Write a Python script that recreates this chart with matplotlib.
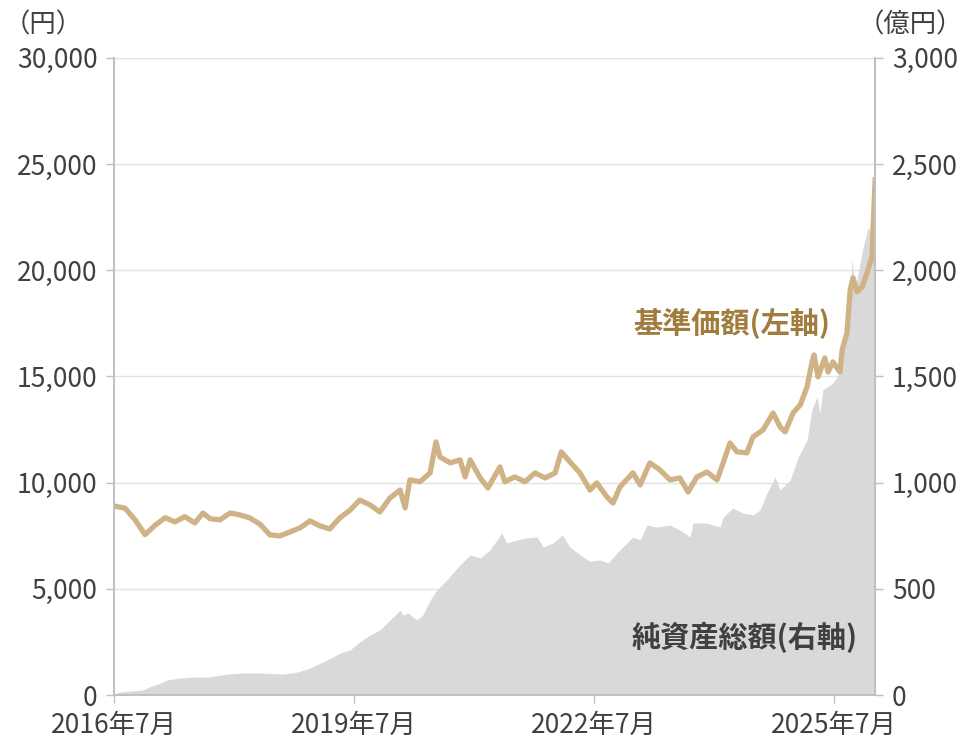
import numpy as np
import matplotlib
matplotlib.use("Agg")
import matplotlib.pyplot as plt
import matplotlib.ticker as mticker
import pandas as pd

plt.rcParams['font.family'] = ['Noto Sans CJK JP', 'DejaVu Sans']

# 基準価額 (円)
nav_dates = [
    "2016-07-01", "2016-08-20", "2016-10-05", "2016-11-20", "2017-01-05", "2017-02-20",
    "2017-04-05", "2017-05-20", "2017-07-05", "2017-08-11", "2017-09-13", "2017-10-28",
    "2017-12-13", "2018-01-28", "2018-03-13", "2018-04-28", "2018-06-13", "2018-07-28",
    "2018-09-13", "2018-10-28", "2018-12-13", "2019-01-28", "2019-03-13", "2019-04-28",
    "2019-06-13", "2019-07-28", "2019-09-13", "2019-10-28", "2019-12-13", "2020-01-28",
    "2020-02-20", "2020-03-13", "2020-04-28", "2020-06-13", "2020-07-10", "2020-07-28",
    "2020-09-13", "2020-10-28", "2020-11-20", "2020-12-13", "2021-01-28", "2021-03-04",
    "2021-04-28", "2021-05-20", "2021-07-05", "2021-08-20", "2021-10-05", "2021-11-20",
    "2022-01-05", "2022-02-02", "2022-03-13", "2022-04-28", "2022-06-13", "2022-07-14",
    "2022-08-29", "2022-09-26", "2022-10-28", "2022-12-26", "2023-01-28", "2023-03-13",
    "2023-04-28", "2023-06-13", "2023-07-28", "2023-09-04", "2023-10-14", "2023-11-29",
    "2024-01-14", "2024-02-11", "2024-03-13", "2024-04-14", "2024-05-29", "2024-06-26",
    "2024-08-11", "2024-09-26", "2024-10-28", "2024-11-20", "2024-12-26", "2025-01-28",
    "2025-02-28", "2025-03-22", "2025-04-01", "2025-04-19", "2025-05-20", "2025-06-04",
    "2025-06-26", "2025-07-28", "2025-08-07", "2025-08-29", "2025-09-13", "2025-09-26",
    "2025-10-14", "2025-11-07", "2025-11-29", "2025-12-22", "2025-12-26", "2026-01-05",
]
nav_values = [
    8900, 8800, 8250, 7550, 8000, 8350,
    8150, 8400, 8100, 8570, 8300, 8250,
    8570, 8480, 8340, 8050, 7540, 7490,
    7680, 7870, 8200, 7960, 7820, 8340,
    8700, 9180, 8950, 8620, 9280, 9650,
    8810, 10130, 10040, 10460, 11920, 11210,
    10930, 11070, 10270, 11070, 10220, 9750,
    10740, 10040, 10270, 10040, 10460, 10220,
    10460, 11450, 10980, 10460, 9650, 9990,
    9330, 9040, 9800, 10460, 9890, 10930,
    10600, 10130, 10220, 9560, 10270, 10500,
    10130, 10930, 11870, 11450, 11400, 12150,
    12480, 13280, 12620, 12390, 13280, 13660,
    14510, 15640, 16010, 14980, 15870, 15210,
    15680, 15210, 16250, 17050, 19080, 19640,
    18980, 19220, 19880, 20630, 21900, 24260,
]

# 純資産総額 (億円)
aum_dates = [
    "2016-07-01", "2016-07-23", "2016-11-11", "2016-12-13", "2017-01-28", "2017-03-01",
    "2017-04-28", "2017-06-26", "2017-09-13", "2017-11-29", "2018-02-11", "2018-04-28",
    "2018-08-11", "2018-10-14", "2018-12-13", "2019-02-28", "2019-05-11", "2019-06-13",
    "2019-07-28", "2019-09-13", "2019-10-28", "2019-12-13", "2020-01-28", "2020-02-11",
    "2020-03-04", "2020-04-14", "2020-05-11", "2020-06-13", "2020-07-14", "2020-08-29",
    "2020-10-14", "2020-11-20", "2020-12-13", "2021-01-28", "2021-03-13", "2021-04-14",
    "2021-05-07", "2021-05-29", "2021-07-14", "2021-08-29", "2021-10-14", "2021-11-11",
    "2021-12-26", "2022-02-07", "2022-03-13", "2022-04-28", "2022-06-13", "2022-07-28",
    "2022-09-04", "2022-10-14", "2022-11-29", "2022-12-26", "2023-01-28", "2023-02-28",
    "2023-04-14", "2023-06-13", "2023-07-28", "2023-09-13", "2023-09-26", "2023-11-29",
    "2024-01-28", "2024-02-11", "2024-03-26", "2024-05-11", "2024-06-26", "2024-07-28",
    "2024-08-29", "2024-10-05", "2024-10-28", "2024-12-13", "2025-01-19", "2025-02-28",
    "2025-03-22", "2025-04-14", "2025-04-28", "2025-05-11", "2025-06-26", "2025-07-28",
    "2025-08-11", "2025-09-04", "2025-09-22", "2025-10-05", "2025-11-11", "2025-12-04",
    "2025-12-22", "2025-12-26", "2026-01-05",
]
aum_values = [
    0, 14, 24, 40, 56, 71,
    80, 85, 85, 99, 104, 104,
    99, 108, 127, 165, 203, 212,
    250, 283, 306, 353, 400, 377,
    386, 353, 377, 447, 495, 542,
    598, 636, 660, 645, 683, 730,
    763, 716, 730, 740, 744, 697,
    716, 754, 697, 660, 630, 636,
    622, 669, 716, 744, 730, 800,
    791, 800, 777, 744, 810, 810,
    791, 838, 880, 857, 848, 871,
    951, 1027, 965, 1013, 1121, 1201,
    1342, 1404, 1328, 1437, 1470, 1517,
    1625, 1800, 2049, 1908, 2110, 2204,
    2157, 2251, 2750,
]

tick_dates = ["2016-07-01", "2019-07-01", "2022-07-01", "2025-07-01"]
tick_labels = ["2016年7月", "2019年7月", "2022年7月", "2025年7月"]

nav_x = pd.to_datetime(nav_dates)
aum_x = pd.to_datetime(aum_dates)

text_col = '#404040'
spine_col = '#bfbfbf'
fs = 19

fig = plt.figure(figsize=(9.66, 7.41), dpi=100)
ax2 = fig.add_axes([0.118, 0.062, 0.788, 0.86])   # right axis, behind
ax = ax2.twinx()
ax.yaxis.tick_left()
ax2.yaxis.tick_right()
ax.set_zorder(ax2.get_zorder() + 1)
ax.patch.set_visible(False)

# net assets area
ax2.fill_between(aum_x, aum_values, 0, color='#d9d9d9', linewidth=0)
ax2.set_ylim(0, 3000)
ax2.set_yticks(np.arange(0, 3001, 500))
ax2.yaxis.set_major_formatter(mticker.StrMethodFormatter('{x:,.0f}'))
ax2.grid(axis='y', color='#e3e3e3', linewidth=1)
ax2.set_axisbelow(True)

# NAV line
ax.plot(nav_x, nav_values, color='#cfb386', linewidth=3.8, solid_joinstyle='round')
ax.set_ylim(0, 30000)
ax.set_yticks(np.arange(0, 30001, 5000))
ax.yaxis.set_major_formatter(mticker.StrMethodFormatter('{x:,.0f}'))

xmin, xmax = pd.Timestamp("2016-07-01"), pd.Timestamp("2026-01-05")
for a in (ax, ax2):
    a.set_xlim(xmin, xmax)
    a.spines['top'].set_visible(False)
    for s in ('left', 'right', 'bottom'):
        a.spines[s].set_color(spine_col)
        a.spines[s].set_linewidth(1.2)
    a.tick_params(colors=spine_col, labelcolor=text_col, labelsize=fs, length=6, width=1)

ax2.set_xticks(pd.to_datetime(tick_dates))
ax2.set_xticklabels(tick_labels)
ax2.tick_params(axis='x', pad=6)
ax.tick_params(axis='x', bottom=False, labelbottom=False)
ax.tick_params(axis='y', left=True, right=False, labelleft=True, labelright=False, pad=6)
ax2.tick_params(axis='y', right=True, left=False, labelright=True, labelleft=False, pad=6)

fig.text(0.004, 0.966, '（円）', fontsize=fs, color=text_col, va='center', ha='left')
fig.text(0.997, 0.966, '（億円）', fontsize=fs, color=text_col, va='center', ha='right')

ax.text(pd.Timestamp("2024-03-20"), 17500, '基準価額(左軸)', fontsize=21, fontweight='bold',
        color='#a07d3e', va='center', ha='center')
ax.text(pd.Timestamp("2024-05-20"), 2730, '純資産総額(右軸)', fontsize=21, fontweight='bold',
        color='#404040', va='center', ha='center')

fig.savefig('out.png', dpi=100)
